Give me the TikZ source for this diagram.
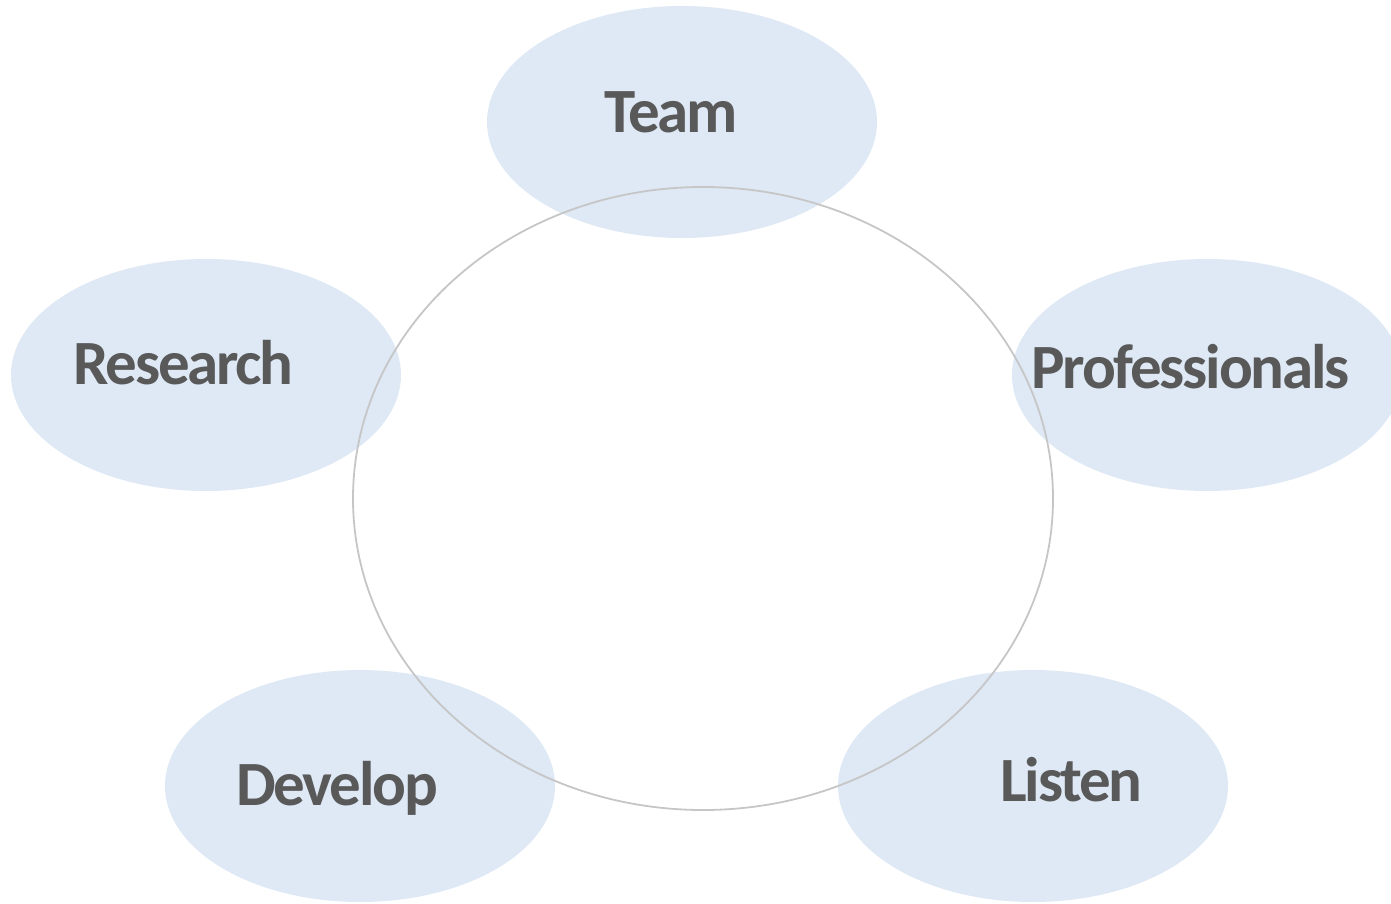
\documentclass[tikz,border=0pt]{standalone}
\usepackage{fontspec}
\setmainfont{Carlito}[LetterSpace=-3.5]
\definecolor{bubble}{HTML}{DEE9F5}
\definecolor{ring}{HTML}{C6C6C6}
\definecolor{word}{HTML}{595959}
\tikzset{
  bubble/.style={fill=bubble, draw=none},
  word/.style={text=word, font=\bfseries\fontsize{63}{63}\selectfont, anchor=base, inner sep=0pt}
}
\begin{document}
\begin{tikzpicture}[x=1pt,y=-1pt]
\useasboundingbox (0,0) rectangle (1391,903);
\foreach \n/\x/\y in {team/682/122, research/206/375, professionals/1207/375, develop/360/786, listen/1033/786}
{
    \fill[bubble] (\x,\y) ellipse [x radius=195, y radius=116];
    \coordinate (\n) at (\x,\y);
}
\draw[ring, line width=1.8pt] (703,498.5) ellipse [x radius=350, y radius=311.5];
\foreach \n/\x/\y/\t in {tteam/671.5/132/Team, tresearch/183.5/384/Research, tprofessionals/1190.5/388/Professionals, tdevelop/337/805/Develop, tlisten/1071.5/801/Listen}
{
    \node[word] (\n) at (\x,\y) {\t};
}
\end{tikzpicture}
\end{document}
